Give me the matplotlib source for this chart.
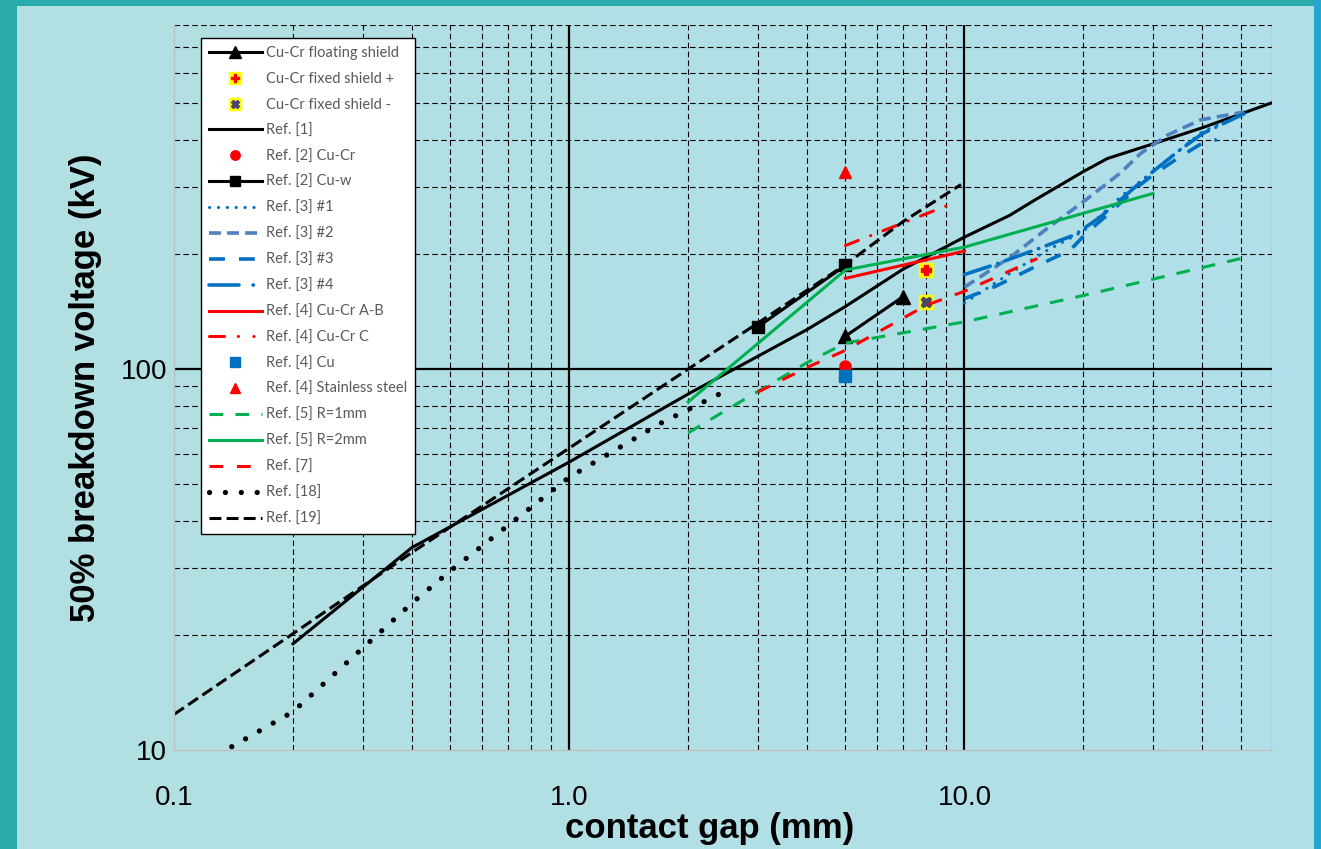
#!/usr/bin/python3

# ===========================================================================
# Tension de claquage a 50% en fonction de l'ecart des contacts (log-log).
# ===========================================================================

import numpy as np
import matplotlib
matplotlib.use("Agg")
import matplotlib.pyplot as plt
from matplotlib.lines import Line2D

## Donnees ------------------------------------------------------------------

## Cu-Cr floating shield
x_float = [5, 7]
y_float = [122, 155]

## Cu-Cr fixed shield + / -
x_fix_pos = [8]
y_fix_pos = [182]
x_fix_neg = [8]
y_fix_neg = [150]

## Ref. [1]
x_ref1 = [0.2, 0.4, 1, 2, 3, 4, 5, 7, 10, 13, 15, 17.2, 20, 23, 30, 40, 60]
y_ref1 = [19, 34, 57, 86, 108, 127, 146, 183, 222, 253, 277, 301, 330, 357, 390, 430, 500]

## Ref. [2]
x_ref2_cucr = [5]
y_ref2_cucr = [102]
x_ref2_cuw = [3, 5]
y_ref2_cuw = [129, 187]

## Ref. [3]
x_ref3_1 = [10, 13, 16.2, 20, 25, 30, 40, 50]
y_ref3_1 = [149, 178, 205, 230, 285, 330, 420, 465]
x_ref3_2 = [10, 13.1, 16.2, 20, 24.8, 27.9, 32.6, 39.6, 51]
y_ref3_2 = [164, 197, 234, 275, 327, 368, 411, 451, 473]
x_ref3_3 = [10, 12, 15, 18.5, 20.4, 23.4, 27.9, 30.2, 35, 40, 43.5]
y_ref3_3 = [153, 165, 185, 205, 228, 258, 305, 325, 360, 392, 400]
x_ref3_4 = [10, 11.75, 15, 19, 22, 25, 30, 35, 40, 51]
y_ref3_4 = [177, 187, 205, 225, 250, 280, 330, 375, 415, 468]

## Ref. [4]
x_ref4_ab = [5, 10]
y_ref4_ab = [173, 204]
x_ref4_c = [5, 9.5]
y_ref4_c = [211, 274]
x_ref4_cu = [5]
y_ref4_cu = [96]
x_ref4_ss = [5]
y_ref4_ss = [330]

## Ref. [5]
x_ref5_r1 = [2, 2.76, 4, 5, 10, 20, 50]
y_ref5_r1 = [68, 83, 104, 117, 133, 156, 195]
x_ref5_r2 = [2, 5, 10, 30]
y_ref5_r2 = [82, 182, 209, 289]

## Ref. [7]
x_ref7 = [3, 4, 5, 8, 10, 15.3]
y_ref7 = [87, 101, 112, 147, 160, 195]

## Ref. [18]
x_ref18 = [0.14, 0.2, 0.3, 0.4, 0.5, 1, 1.7, 2.4]
y_ref18 = [10.2, 12.6, 18.5, 24.3, 29.5, 52, 72, 86]

## Ref. [19]
x_ref19 = [0.1, 0.2, 0.4, 1, 2, 3, 5, 7, 9.8]
y_ref19 = [12.4, 20.2, 33, 62, 100, 132, 188, 244, 305]

## Couleurs
c_black = "#000000"
c_red = "#FF0000"
c_green = "#00B050"
c_blue = "#0070C0"
c_steel = "#4F81BD"
c_yellow = "#FFFF00"
c_purple = "#4D4270"

# ============================================================================
if __name__ == "__main__":

    plt.rcParams["font.family"] = ["Liberation Sans", "DejaVu Sans"]

    W, H, dpi = 1321, 849, 100
    fig = plt.figure(figsize=(W / dpi, H / dpi), dpi=dpi)
    fig.set_facecolor("#2AABAB")

    ## Fond degrade (panneau clair) + bande droite
    bg = fig.add_axes([17 / W, 0, (1314 - 17) / W, 1 - 6 / H], zorder=-10)
    grad = np.linspace(0, 1, 256).reshape(1, -1)
    cmap = matplotlib.colors.LinearSegmentedColormap.from_list(
        "bg", ["#B3DFE1", "#B0DFEA"])
    bg.imshow(grad, aspect="auto", cmap=cmap, extent=[0, 1, 0, 1])
    bg.set_axis_off()
    strip = fig.add_axes([1314 / W, 0, 7 / W, 1], zorder=-10)
    strip.set_facecolor("#26A5CE")
    strip.set_xticks([])
    strip.set_yticks([])
    for s in strip.spines.values():
        s.set_visible(False)

    ## Zone de trace
    left, right, top, bottom = 174, 1272, 25, 750
    ax = fig.add_axes([left / W, 1 - bottom / H,
                       (right - left) / W, (bottom - top) / H])
    ax.set_facecolor("none")
    ax.set_xscale("log")
    ax.set_yscale("log")
    ax.set_xlim(0.1, 60)
    ax.set_ylim(10, 800)

    ## Grilles
    minor_x = [k * 10.0 ** e for e in (-1, 0, 1) for k in range(2, 10)]
    minor_x = [v for v in minor_x if v <= 60]
    minor_y = [k * 10.0 ** e for e in (1, 2) for k in range(2, 10)]
    for v in minor_x:
        ax.axvline(v, color="black", lw=0.8, ls=(0, (5, 3)), zorder=1)
    for v in minor_y:
        ax.axhline(v, color="black", lw=0.8, ls=(0, (5, 3)), zorder=1)
    for v in (1, 10):
        ax.axvline(v, color="black", lw=1.6, zorder=1.5)
    ax.axhline(100, color="black", lw=1.6, zorder=1.5)

    ## Axes
    for side in ("top", "right"):
        ax.spines[side].set_visible(False)
    for side in ("left", "bottom"):
        ax.spines[side].set_color("#BFBFBF")
        ax.spines[side].set_linewidth(1.0)
    ax.set_xticks([0.1, 1, 10])
    ax.set_xticklabels(["0.1", "1.0", "10.0"])
    ax.set_yticks([10, 100])
    ax.set_yticklabels(["10", "100"])
    ax.minorticks_off()
    ax.tick_params(which="both", length=0, labelsize=20)
    ax.tick_params(axis="x", pad=25)
    ax.tick_params(axis="y", pad=5)
    ax.set_xlabel("contact gap (mm)", fontsize=25, fontweight="bold")
    ax.xaxis.set_label_coords((710 - left) / (right - left), -0.086)
    ax.set_ylabel("50% breakdown voltage (kV)", fontsize=25,
                  fontweight="bold", labelpad=13)

    lw = 2.2
    lwb = 2.6
    h = []

    ## Series
    h.append(ax.plot(x_float, y_float, color=c_black, lw=lw, marker="^",
                     ms=10, label="Cu-Cr floating shield")[0])
    p1 = ax.plot(x_fix_pos, y_fix_pos, ls="none", marker="s", ms=10,
                 mfc=c_yellow, mec=c_yellow)[0]
    p2 = ax.plot(x_fix_pos, y_fix_pos, ls="none", marker="P", ms=7.5,
                 mfc=c_red, mec=c_red)[0]
    h.append((p1, p2))
    n1 = ax.plot(x_fix_neg, y_fix_neg, ls="none", marker="s", ms=10,
                 mfc=c_yellow, mec=c_yellow)[0]
    n2 = ax.plot(x_fix_neg, y_fix_neg, ls="none", marker="X", ms=7.5,
                 mfc=c_purple, mec=c_purple)[0]
    h.append((n1, n2))
    h.append(ax.plot(x_ref1, y_ref1, color=c_black, lw=lw)[0])
    h.append(ax.plot(x_ref2_cucr, y_ref2_cucr, ls="none", marker="o",
                     ms=8, color=c_red)[0])
    h.append(ax.plot(x_ref2_cuw, y_ref2_cuw, color=c_black, lw=lw,
                     marker="s", ms=9)[0])
    h.append(ax.plot(x_ref3_1, y_ref3_1, color=c_blue, lw=lw,
                     ls=(0, (0.1, 2.8)), dash_capstyle="round")[0])
    h.append(ax.plot(x_ref3_2, y_ref3_2, color=c_steel, lw=lwb,
                     ls=(0, (3.3, 1.7)))[0])
    h.append(ax.plot(x_ref3_3, y_ref3_3, color=c_blue, lw=lwb,
                     ls=(0, (4.4, 3.9)))[0])
    ax.plot(x_ref3_4, y_ref3_4, color=c_blue, lw=lwb,
            ls=(0, (7.5, 2.2, 0.1, 2.2)), dash_capstyle="round")
    h.append(Line2D([], [], color=c_blue, lw=lwb,
                    ls=(0, (8.3, 3.9, 0.1, 4)), dash_capstyle="round"))
    h.append(ax.plot(x_ref4_ab, y_ref4_ab, color=c_red, lw=lw)[0])
    ax.plot(x_ref4_c, y_ref4_c, color=c_red, lw=lw,
            ls=(0, (4.5, 4.3, 0.1, 4.3)), dash_capstyle="round")
    h.append(Line2D([], [], color=c_red, lw=lw,
                    ls=(0, (4.9, 4.5, 0.1, 5, 0.1, 5)),
                    dash_capstyle="round"))
    h.append(ax.plot(x_ref4_cu, y_ref4_cu, ls="none", marker="s", ms=8,
                     color=c_blue)[0])
    h.append(ax.plot(x_ref4_ss, y_ref4_ss, ls="none", marker="^", ms=9,
                     color=c_red)[0])
    h.append(ax.plot(x_ref5_r1, y_ref5_r1, color=c_green, lw=lw,
                     ls=(0, (4.5, 4)))[0])
    h.append(ax.plot(x_ref5_r2, y_ref5_r2, color=c_green, lw=lw)[0])
    h.append(ax.plot(x_ref7, y_ref7, color=c_red, lw=lw,
                     ls=(0, (4.5, 4.5)))[0])
    h.append(ax.plot(x_ref18, y_ref18, color=c_black, lw=3.8,
                     ls=(0, (0.01, 3.0)), dash_capstyle="round")[0])
    h.append(ax.plot(x_ref19, y_ref19, color=c_black, lw=lw,
                     ls=(0, (3.9, 1.7)))[0])

    labels = ["Cu-Cr floating shield", "Cu-Cr fixed shield +",
              "Cu-Cr fixed shield -", "Ref. [1]", "Ref. [2] Cu-Cr",
              "Ref. [2] Cu-w", "Ref. [3] #1", "Ref. [3] #2", "Ref. [3] #3",
              "Ref. [3] #4", "Ref. [4] Cu-Cr A-B", "Ref. [4] Cu-Cr C",
              "Ref. [4] Cu", "Ref. [4] Stainless steel", "Ref. [5] R=1mm",
              "Ref. [5] R=2mm", "Ref. [7]", "Ref. [18]", "Ref. [19]"]

    leg = ax.legend(h, labels, loc="upper left",
                    bbox_to_anchor=((201 - left) / (right - left),
                                    (bottom - 38) / (bottom - top)),
                    borderaxespad=0, fancybox=False, framealpha=1,
                    edgecolor="black", facecolor="white",
                    prop={"family": "Lato", "size": 10.5},
                    handlelength=3.6, handletextpad=0.3, labelspacing=0.81,
                    borderpad=0.55, markerscale=0.85)
    leg.get_frame().set_linewidth(1.0)
    leg.set_zorder(5)
    for t in leg.get_texts():
        t.set_color("#595959")

    plt.savefig("out.png", dpi=dpi, facecolor=fig.get_facecolor())
